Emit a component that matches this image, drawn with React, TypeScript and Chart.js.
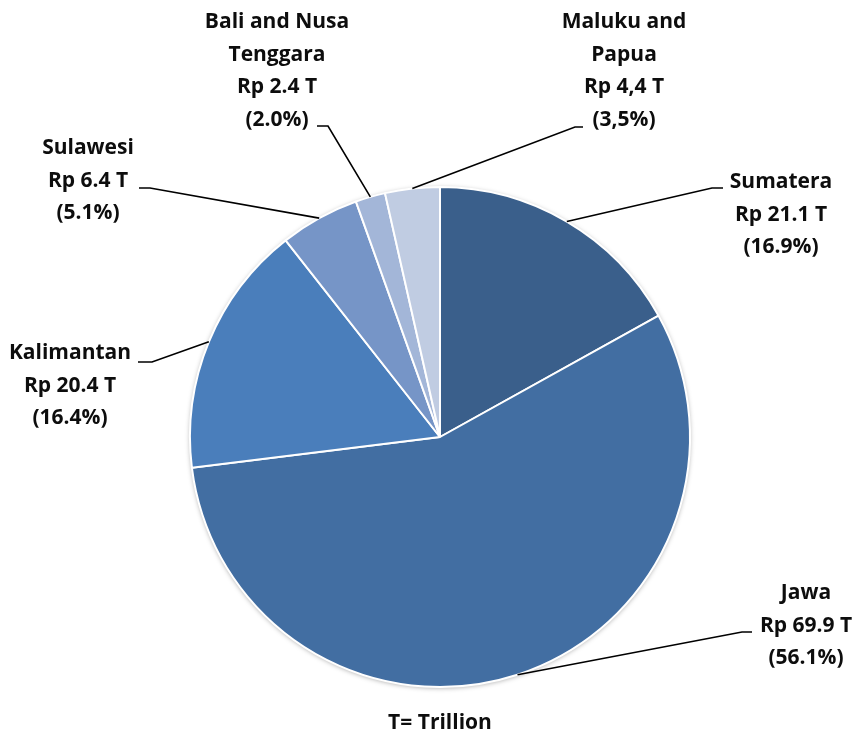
import React, { useEffect, useRef } from "react";
import { Chart, registerables } from "chart.js";

Chart.register(...registerables);

const categories = ["Sumatera", "Jawa", "Kalimantan", "Sulawesi", "Bali and Nusa Tenggara", "Maluku and Papua"];
const valuesT = [21.1, 69.9, 20.4, 6.4, 2.4, 4.4];
const nameLines = [["Sumatera"], ["Jawa"], ["Kalimantan"], ["Sulawesi"], ["Bali and Nusa", "Tenggara"], ["Maluku and", "Papua"]];
const valueLabels = ["Rp 21.1 T", "Rp 69.9 T", "Rp 20.4 T", "Rp 6.4 T", "Rp 2.4 T", "Rp 4,4 T"];
const percentLabels = ["(16.9%)", "(56.1%)", "(16.4%)", "(5.1%)", "(2.0%)", "(3,5%)"];
const colors = ["#3a5f8b", "#426ea2", "#4a7ebb", "#7695c7", "#a3b6d8", "#c0cce2"];
const footnote = "T= Trillion";

// label layout: offsets from pie centre (text centre x, first line y, elbow point, end x)
const labelLayout = [
  { tx: 341, ty: -255, ex: 272, ey: -249, endX: 283 },
  { tx: 366, ty: 156, ex: 302, ey: 195, endX: 312 },
  { tx: -370, ty: -84, ex: -288, ey: -75, endX: -302 },
  { tx: -352, ty: -289, ex: -290, ey: -249, endX: -301 },
  { tx: -163, ty: -415, ex: -112, ey: -311, endX: -123 },
  { tx: 184, ty: -415, ex: 135, ey: -310, endX: 143 },
];

const LINE_H = 32.6;
const FONT = "bold 21px 'Open Sans', Lato, sans-serif";

const labelPlugin = {
  id: "leaderLabels",
  beforeDatasetsDraw(chart: any) {
    const ctx = chart.ctx;
    ctx.save();
    ctx.shadowColor = "rgba(0,0,0,0.35)";
    ctx.shadowBlur = 5;
    ctx.shadowOffsetX = 0;
    ctx.shadowOffsetY = 1;
    const meta = chart.getDatasetMeta(0);
    const a = meta.data[0];
    ctx.beginPath();
    ctx.arc(a.x, a.y, a.outerRadius, 0, Math.PI * 2);
    ctx.fillStyle = "#ffffff";
    ctx.fill();
    ctx.restore();
  },
  afterDraw(chart: any) {
    const ctx = chart.ctx;
    const meta = chart.getDatasetMeta(0);
    ctx.save();
    meta.data.forEach((arc: any, i: number) => {
      const cx = arc.x;
      const cy = arc.y;
      const mid = (arc.startAngle + arc.endAngle) / 2;
      const sx = cx + Math.cos(mid) * arc.outerRadius;
      const sy = cy + Math.sin(mid) * arc.outerRadius;
      const L = labelLayout[i];
      ctx.strokeStyle = "#000000";
      ctx.lineWidth = 1.6;
      ctx.beginPath();
      ctx.moveTo(sx, sy);
      ctx.lineTo(cx + L.ex, cy + L.ey);
      ctx.lineTo(cx + L.endX, cy + L.ey);
      ctx.stroke();
      const lines = [...nameLines[i], valueLabels[i], percentLabels[i]];
      ctx.font = FONT;
      ctx.fillStyle = "#0d0d0d";
      ctx.textAlign = "center";
      ctx.textBaseline = "middle";
      lines.forEach((t, k) => {
        ctx.fillText(t, cx + L.tx, cy + L.ty + k * LINE_H);
      });
    });
    const a0 = meta.data[0];
    ctx.fillText(footnote, a0.x, a0.y + 286);
    ctx.restore();
  },
};

export default function App() {
  const ref = useRef<HTMLCanvasElement | null>(null);
  useEffect(() => {
    document.body.style.margin = "0";
    const chart = new Chart(ref.current as HTMLCanvasElement, {
      type: "pie",
      data: {
        labels: categories,
        datasets: [
          {
            data: valuesT,
            backgroundColor: colors,
            borderColor: "#ffffff",
            borderWidth: 2,
          },
        ],
      },
      options: {
        animation: false,
        responsive: false,
        layout: { padding: { top: 186, bottom: 54, left: 189, right: 175 } },
        plugins: { legend: { display: false }, tooltip: { enabled: false } },
      },
      plugins: [labelPlugin],
    });
    return () => chart.destroy();
  }, []);
  return (
    <div style={{ width: 866, height: 742, background: "#ffffff" }}>
      <canvas ref={ref} width={866} height={742} />
    </div>
  );
}
